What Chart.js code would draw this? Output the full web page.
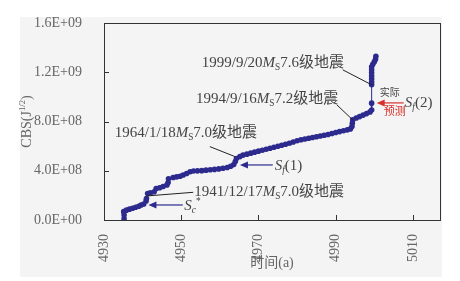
<!DOCTYPE html>
<html>
<head>
  <meta charset="utf-8">
  <title>CBS 曲线</title>
  <style>
    html, body { margin: 0; padding: 0; background: #fff; }
    .chart-container { position: relative; width: 460px; height: 281px; }
  </style>
</head>
<body>
  <div class="chart-container">
    <canvas id="myChart" width="460" height="281"></canvas>
  </div>

  <script src="https://cdn.jsdelivr.net/npm/chart.js"></script>
  <script>
    // 資料 (x = 时间, y = CBS，單位 1E+08)
    const years = [
      4935.2, 4935.2, 4935.1, 4935.8, 4936.6, 4937.4, 4938.2, 4939.0, 4939.6, 4940.3,
      4940.9, 4941.0, 4941.3, 4942.0, 4943.0, 4943.5, 4944.4, 4945.3, 4946.3, 4946.6,
      4946.7, 4947.9, 4948.8, 4949.7, 4950.5, 4951.4, 4952.3, 4953.2, 4954.2, 4955.3,
      4956.4, 4957.5, 4958.6, 4959.7, 4960.8, 4961.9, 4962.8, 4963.6, 4964.0, 4964.3,
      4965.2, 4966.0, 4967.0, 4968.0, 4969.0, 4970.0, 4971.0, 4972.0, 4973.0, 4974.0,
      4975.0, 4976.0, 4977.0, 4978.0, 4979.0, 4980.0, 4981.0, 4982.0, 4983.0, 4984.0,
      4985.0, 4986.0, 4987.0, 4988.0, 4989.0, 4990.0, 4991.0, 4992.0, 4993.0, 4993.8,
      4994.2, 4994.3, 4994.4, 4995.3, 4996.2, 4997.1, 4998.0, 4998.9, 4999.3, 4999.3,
      4999.3, 4999.3, 4999.3, 4999.3, 4999.3, 4999.3, 4999.3, 4999.6, 5000.0, 5000.3,
      5000.4
    ];
    const cbsE8 = [
      0.10, 0.40, 0.68, 0.80, 0.88, 0.95, 1.04, 1.12, 1.22, 1.30,
      1.55, 1.75, 2.15, 2.20, 2.30, 2.55, 2.62, 2.72, 2.85, 3.05,
      3.35, 3.45, 3.50, 3.55, 3.65, 3.78, 3.92, 3.98, 3.99, 4.01,
      4.05, 4.08, 4.11, 4.15, 4.20, 4.27, 4.36, 4.50, 4.75, 5.00,
      5.15, 5.27, 5.35, 5.43, 5.51, 5.59, 5.67, 5.75, 5.83, 5.91,
      5.99, 6.07, 6.15, 6.23, 6.33, 6.44, 6.52, 6.58, 6.64, 6.70,
      6.76, 6.82, 6.88, 6.95, 7.03, 7.11, 7.18, 7.25, 7.32, 7.40,
      7.60, 7.85, 8.13, 8.28, 8.40, 8.52, 8.64, 8.78, 8.94, 9.49,
      10.98, 11.20, 11.45, 11.70, 11.95, 12.20, 12.45, 12.65, 12.85, 13.05,
      13.30
    ];
    const unit = 1e8;
    const thinSegmentEnd = 80; // 9.49 -> 10.98 之間為細線

    const xTicks = [4930, 4950, 4970, 4990, 5010];
    const yTicks = [0, 4e8, 8e8, 1.2e9, 1.6e9];
    const yTickLabels = ['0.0E+00', '4.0E+08', '8.0E+08', '1.2E+09', '1.6E+09'];

    // 樣式
    const lineColor = '#2d2a8e';
    const textGray = '#666';
    const noteColor = '#444';
    const serif = '"Liberation Serif", "Noto Sans CJK SC", serif';

    // 標註 (資料座標)
    const notes = [
      { x: 4955.3, y: 12.74e8, runs: [{ t: '1999/9/20' }, { t: 'M', i: 1 }, { t: 'S', sub: 1 }, { t: '7.6级地震' }] },
      { x: 4953.8, y: 9.86e8, runs: [{ t: '1994/9/16' }, { t: 'M', i: 1 }, { t: 'S', sub: 1 }, { t: '7.2级地震' }] },
      { x: 4932.8, y: 7.07e8, runs: [{ t: '1964/1/18' }, { t: 'M', i: 1 }, { t: 'S', sub: 1 }, { t: '7.0级地震' }] },
      { x: 4953.4, y: 2.25e8, runs: [{ t: '1941/12/17' }, { t: 'M', i: 1 }, { t: 'S', sub: 1 }, { t: '7.0级地震' }] },
      { x: 4974.2, y: 4.40e8, runs: [{ t: 'S', i: 1 }, { t: 'f', i: 1, sub: 1 }, { t: '(1)' }] },
      { x: 4950.8, y: 1.15e8, runs: [{ t: 'S', i: 1 }, { t: 'c', i: 1, sub: 1 }, { t: '*', sup: 1 }] },
      { x: 5007.9, y: 9.51e8, runs: [{ t: 'S', i: 1 }, { t: 'f', i: 1, sub: 1 }, { t: '(2)' }] }
    ];
    const leaders = [
      [4991.8, 12.2e8, 4999.3, 10.98e8],
      [4990.3, 9.35e8, 4994.4, 8.13e8],
      [4957.4, 5.96e8, 4963.9, 5.15e8],
      [4941.0, 1.95e8, 4953.1, 2.25e8]
    ];
    // 箭頭: [尾x, 尾y, 頭x, 頭y, 顏色]
    const arrows = [
      [4973.7, 4.47e8, 4965.2, 4.47e8, lineColor],
      [4950.4, 1.22e8, 4941.5, 1.22e8, lineColor],
      [5007.6, 9.51e8, 5000.6, 9.51e8, '#d9302c']
    ];

    function drawRuns(ctx, x, y, runs, size, align, color) {
      const parts = runs.map(r => {
        const fs = (r.sub || r.sup) ? size * 0.62 : size;
        const font = (r.i ? 'italic ' : '') + fs + 'px ' + serif;
        ctx.font = font;
        return { r: r, font: font, w: ctx.measureText(r.t).width, dy: r.sub ? size * 0.3 : (r.sup ? -size * 0.3 : 0) };
      });
      const total = parts.reduce((a, p) => a + p.w, 0);
      let cx = align === 'center' ? x - total / 2 : x;
      ctx.textBaseline = 'middle';
      ctx.textAlign = 'left';
      parts.forEach(p => {
        ctx.font = p.font;
        ctx.fillStyle = p.r.c || color;
        ctx.fillText(p.r.t, cx, y + p.dy);
        cx += p.w;
      });
    }

    const decorPlugin = {
      id: 'decor',
      beforeDraw(chart) {
        const ctx = chart.ctx;
        ctx.save();
        ctx.fillStyle = '#f4f4f4';
        ctx.fillRect(20, 17, 422, 260);
        ctx.restore();
      },
      afterDraw(chart) {
        const ctx = chart.ctx;
        const a = chart.chartArea;
        const xs = chart.scales.x, ys = chart.scales.y;
        ctx.save();
        // 外框
        ctx.strokeStyle = '#333';
        ctx.lineWidth = 1;
        ctx.strokeRect(a.left + 0.5, a.top + 0.5, a.right - a.left, a.bottom - a.top);
        // 內側刻度
        ctx.beginPath();
        xTicks.forEach(v => {
          const px = Math.round(xs.getPixelForValue(v)) + 0.5;
          ctx.moveTo(px, a.bottom); ctx.lineTo(px, a.bottom - 5);
        });
        yTicks.forEach(v => {
          const py = Math.round(ys.getPixelForValue(v)) + 0.5;
          ctx.moveTo(a.left, py); ctx.lineTo(a.left + 5, py);
        });
        ctx.stroke();

        // y 軸標題
        ctx.save();
        ctx.translate(27, (a.top + a.bottom) / 2);
        ctx.rotate(-Math.PI / 2);
        drawRuns(ctx, 0, 0, [{ t: 'CBS(J' }, { t: '1/2', sup: 1 }, { t: ')' }], 14, 'center', textGray);
        ctx.restore();

        // 引線
        ctx.strokeStyle = '#222';
        ctx.lineWidth = 1;
        leaders.forEach(l => {
          ctx.beginPath();
          ctx.moveTo(xs.getPixelForValue(l[0]), ys.getPixelForValue(l[1]));
          ctx.lineTo(xs.getPixelForValue(l[2]), ys.getPixelForValue(l[3]));
          ctx.stroke();
        });

        // 箭頭
        arrows.forEach(r => {
          const x1 = xs.getPixelForValue(r[0]), y1 = ys.getPixelForValue(r[1]);
          const x2 = xs.getPixelForValue(r[2]), y2 = ys.getPixelForValue(r[3]);
          const ang = Math.atan2(y2 - y1, x2 - x1);
          ctx.strokeStyle = r[4];
          ctx.fillStyle = r[4];
          ctx.lineWidth = 1.2;
          ctx.beginPath();
          ctx.moveTo(x1, y1);
          ctx.lineTo(x2 - 6 * Math.cos(ang), y2 - 6 * Math.sin(ang));
          ctx.stroke();
          ctx.beginPath();
          ctx.moveTo(x2, y2);
          ctx.lineTo(x2 - 8 * Math.cos(ang) + 3.5 * Math.sin(ang), y2 - 8 * Math.sin(ang) - 3.5 * Math.cos(ang));
          ctx.lineTo(x2 - 8 * Math.cos(ang) - 3.5 * Math.sin(ang), y2 - 8 * Math.sin(ang) + 3.5 * Math.cos(ang));
          ctx.closePath();
          ctx.fill();
        });

        // 標註文字
        notes.forEach(n => {
          drawRuns(ctx, xs.getPixelForValue(n.x), ys.getPixelForValue(n.y), n.runs, 15, 'left', noteColor);
        });
        drawRuns(ctx, xs.getPixelForValue(5004.0), ys.getPixelForValue(10.32e8), [{ t: '实际' }], 10, 'center', '#444');
        drawRuns(ctx, xs.getPixelForValue(5005.3), ys.getPixelForValue(8.80e8), [{ t: '预测' }], 11, 'center', '#d9302c');
        ctx.restore();
      }
    };

    const data = {
      datasets: [{
        label: 'CBS',
        data: years.map((x, i) => ({ x: x, y: cbsE8[i] * unit })),
        borderColor: lineColor,
        backgroundColor: lineColor,
        borderWidth: 1.6,
        pointRadius: 2.8,
        pointStyle: 'circle',
        pointBorderWidth: 0,
        tension: 0,
        segment: {
          borderWidth: (c) => c.p1DataIndex === thinSegmentEnd ? 1 : 1.6
        }
      }]
    };

    const config = {
      type: 'scatter',
      data: data,
      plugins: [decorPlugin],
      options: {
        responsive: false,
        animation: false,
        showLine: true,
        layout: { padding: { top: 23, right: 20, bottom: 5, left: 0 } },
        plugins: { legend: { display: false }, tooltip: { enabled: false } },
        scales: {
          x: {
            type: 'linear',
            min: 4930,
            max: 5017,
            afterBuildTicks: (s) => { s.ticks = xTicks.map(v => ({ value: v })); },
            afterFit: (s) => { s.height = 56; },
            grid: { display: false },
            border: { display: false },
            ticks: {
              minRotation: 90,
              maxRotation: 90,
              padding: 6,
              color: textGray,
              font: { family: serif, size: 14 },
              callback: (v) => String(v)
            },
            title: {
              display: true,
              text: '时间(a)',
              color: textGray,
              font: { family: serif, size: 14 },
              padding: { top: 0, bottom: 4 }
            }
          },
          y: {
            min: 0,
            max: 1.6e9,
            afterBuildTicks: (s) => { s.ticks = yTicks.map(v => ({ value: v })); },
            afterFit: (s) => { s.width = 104; },
            grid: { display: false },
            border: { display: false },
            ticks: {
              padding: 14,
              color: textGray,
              font: { family: serif, size: 14 },
              callback: (v) => yTickLabels[yTicks.indexOf(v)]
            }
          }
        }
      }
    };

    const ctx = document.getElementById('myChart').getContext('2d');
    const myChart = new Chart(ctx, config);
  </script>
</body>
</html>
